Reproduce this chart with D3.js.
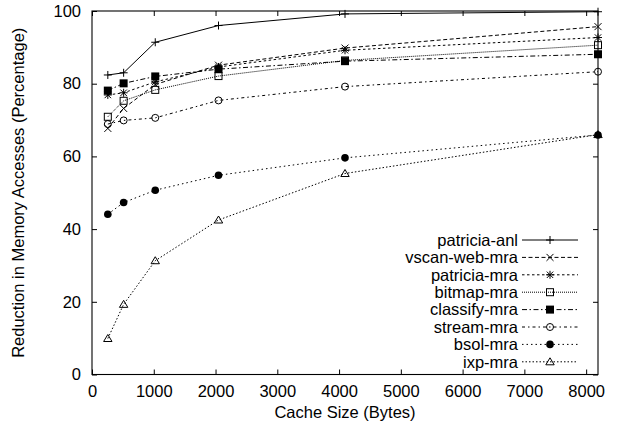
<!DOCTYPE html>
<html>
<head>
<meta charset="utf-8">
<script src="https://cdn.jsdelivr.net/npm/d3@7"></script>
<style>
  html, body { margin: 0; padding: 0; background: #fff; }
  svg { display: block; font-family: "Liberation Sans", Arial, Helvetica, sans-serif; }
</style>
</head>
<body>
<svg id="chart" width="617" height="430"></svg>
<script>
// Cache sizes in bytes
const cacheSizes = [256, 512, 1024, 2048, 4096, 8192];

// Reduction in memory accesses (%) per benchmark
const patriciaAnl = [82.4, 83.0, 91.4, 96.0, 99.2, 99.8];
const vscanWebMra = [67.7, 73.2, 79.8, 85.1, 89.8, 95.7];
const patriciaMra = [76.9, 77.5, 80.5, 84.6, 89.2, 92.7];
const bitmapMra   = [70.9, 75.3, 78.3, 82.1, 86.4, 90.6];
const classifyMra = [78.1, 80.1, 82.0, 84.0, 86.2, 88.1];
const streamMra   = [68.9, 69.9, 70.6, 75.4, 79.2, 83.3];
const bsolMra     = [44.1, 47.3, 50.7, 54.8, 59.6, 65.9];
const ixpMra      = [9.9, 19.3, 31.3, 42.5, 55.3, 66.0];

const seriesNames = ["patricia-anl", "vscan-web-mra", "patricia-mra", "bitmap-mra",
                     "classify-mra", "stream-mra", "bsol-mra", "ixp-mra"];
const seriesValues = [patriciaAnl, vscanWebMra, patriciaMra, bitmapMra,
                      classifyMra, streamMra, bsolMra, ixpMra];

const xTicks = [0, 1000, 2000, 3000, 4000, 5000, 6000, 7000, 8000];
const yTicks = [0, 20, 40, 60, 80, 100];

const xLabel = "Cache Size (Bytes)";
const yLabel = "Reduction in Memory Accesses (Percentage)";

// Line and point styling per series
const styles = [
  { dash: null,            marker: "plus" },
  { dash: "4,2.5",         marker: "cross" },
  { dash: "2.5,2.5",       marker: "star" },
  { dash: "1,1",           marker: "box" },
  { dash: "5,2.5,1.5,2.5", marker: "boxFilled" },
  { dash: "3,3,1.5,3",     marker: "circle" },
  { dash: "1.5,3",         marker: "circleFilled" },
  { dash: "1.5,2",         marker: "triangle" }
];

const fontSize = 16.5;
const svg = d3.select("#chart");
const plotLeft = 92, plotRight = 598, plotTop = 11, plotBottom = 374.5;

const x = d3.scaleLinear().domain([0, 8192]).range([plotLeft, plotRight]);
const y = d3.scaleLinear().domain([0, 100]).range([plotBottom, plotTop]);

const tickLen = 5;
const fmt = d3.format("d");

// Axes: ticks point inward and are mirrored on the opposite side
const gx = svg.append("g").attr("transform", `translate(0,${plotBottom})`)
  .call(d3.axisBottom(x).tickValues(xTicks).tickFormat(fmt).tickSizeInner(-tickLen).tickSizeOuter(0).tickPadding(11));
const gxTop = svg.append("g").attr("transform", `translate(0,${plotTop})`)
  .call(d3.axisTop(x).tickValues(xTicks).tickSizeInner(-tickLen).tickSizeOuter(0).tickFormat(""));
const gy = svg.append("g").attr("transform", `translate(${plotLeft},0)`)
  .call(d3.axisLeft(y).tickValues(yTicks).tickFormat(fmt).tickSizeInner(-tickLen).tickSizeOuter(0).tickPadding(11));
const gyRight = svg.append("g").attr("transform", `translate(${plotRight},0)`)
  .call(d3.axisRight(y).tickValues(yTicks).tickSizeInner(-tickLen).tickSizeOuter(0).tickFormat(""));

[gx, gxTop, gy, gyRight].forEach(g => {
  g.select(".domain").remove();
  g.selectAll("line").attr("stroke", "#000").attr("stroke-width", 1);
  g.selectAll("text").attr("fill", "#000").attr("font-size", fontSize)
    .attr("font-family", "Liberation Sans, Arial, sans-serif");
});

// Plot frame
svg.append("rect")
  .attr("x", plotLeft).attr("y", plotTop)
  .attr("width", plotRight - plotLeft).attr("height", plotBottom - plotTop)
  .attr("fill", "none").attr("stroke", "#000").attr("stroke-width", 1.1);

// Axis titles
svg.append("text")
  .attr("x", (plotLeft + plotRight) / 2).attr("y", 418)
  .attr("text-anchor", "middle").attr("font-size", fontSize)
  .text(xLabel);
svg.append("text")
  .attr("transform", `translate(24,${(plotTop + plotBottom) / 2}) rotate(-90)`)
  .attr("text-anchor", "middle").attr("font-size", fontSize)
  .text(yLabel);

// Marker drawing (open markers are unfilled so the line shows through)
function drawMarker(g, type, cx, cy) {
  const s = 4;
  switch (type) {
    case "plus":
      g.append("path").attr("d", `M${cx - s},${cy}H${cx + s}M${cx},${cy - s}V${cy + s}`)
        .attr("stroke", "#000").attr("stroke-width", 1).attr("fill", "none");
      break;
    case "cross":
      g.append("path").attr("d", `M${cx - 3.5},${cy - 3.5}L${cx + 3.5},${cy + 3.5}M${cx - 3.5},${cy + 3.5}L${cx + 3.5},${cy - 3.5}`)
        .attr("stroke", "#000").attr("stroke-width", 1).attr("fill", "none");
      break;
    case "star":
      g.append("path").attr("d",
        `M${cx - s},${cy}H${cx + s}M${cx},${cy - s}V${cy + s}` +
        `M${cx - 3.2},${cy - 3.2}L${cx + 3.2},${cy + 3.2}M${cx - 3.2},${cy + 3.2}L${cx + 3.2},${cy - 3.2}`)
        .attr("stroke", "#000").attr("stroke-width", 1).attr("fill", "none");
      break;
    case "box":
      g.append("rect").attr("x", cx - 3.5).attr("y", cy - 3.5).attr("width", 7).attr("height", 7)
        .attr("stroke", "#000").attr("stroke-width", 1).attr("fill", "none");
      break;
    case "boxFilled":
      g.append("rect").attr("x", cx - 4).attr("y", cy - 4).attr("width", 8).attr("height", 8)
        .attr("fill", "#000");
      break;
    case "circle":
      g.append("circle").attr("cx", cx).attr("cy", cy).attr("r", 3.5)
        .attr("stroke", "#000").attr("stroke-width", 1).attr("fill", "none");
      break;
    case "circleFilled":
      g.append("circle").attr("cx", cx).attr("cy", cy).attr("r", 3.8).attr("fill", "#000");
      break;
    case "triangle":
      g.append("path").attr("d", `M${cx},${cy - 4}L${cx + 4.2},${cy + 3}L${cx - 4.2},${cy + 3}Z`)
        .attr("stroke", "#000").attr("stroke-width", 1).attr("fill", "none");
      break;
  }
}

const line = d3.line().x(d => x(d[0])).y(d => y(d[1]));

// Series lines and points
seriesValues.forEach((vals, i) => {
  const pts = cacheSizes.map((c, j) => [c, vals[j]]);
  const g = svg.append("g");
  g.append("path")
    .attr("d", line(pts))
    .attr("fill", "none")
    .attr("stroke", "#000")
    .attr("stroke-width", 1)
    .attr("stroke-dasharray", styles[i].dash);
  pts.forEach(p => drawMarker(g, styles[i].marker, x(p[0]), y(p[1])));
});

// Legend
const legX = 518, legLine0 = 522, legLine1 = 578, legY0 = 240, legStep = 17.4;
seriesNames.forEach((name, i) => {
  const yy = legY0 + i * legStep;
  const g = svg.append("g");
  g.append("text")
    .attr("x", legX).attr("y", yy).attr("dy", "0.35em")
    .attr("text-anchor", "end").attr("font-size", fontSize)
    .text(name);
  g.append("line")
    .attr("x1", legLine0).attr("x2", legLine1).attr("y1", yy).attr("y2", yy)
    .attr("stroke", "#000").attr("stroke-width", 1)
    .attr("stroke-dasharray", styles[i].dash);
  drawMarker(g, styles[i].marker, (legLine0 + legLine1) / 2, yy);
});
</script>
</body>
</html>
